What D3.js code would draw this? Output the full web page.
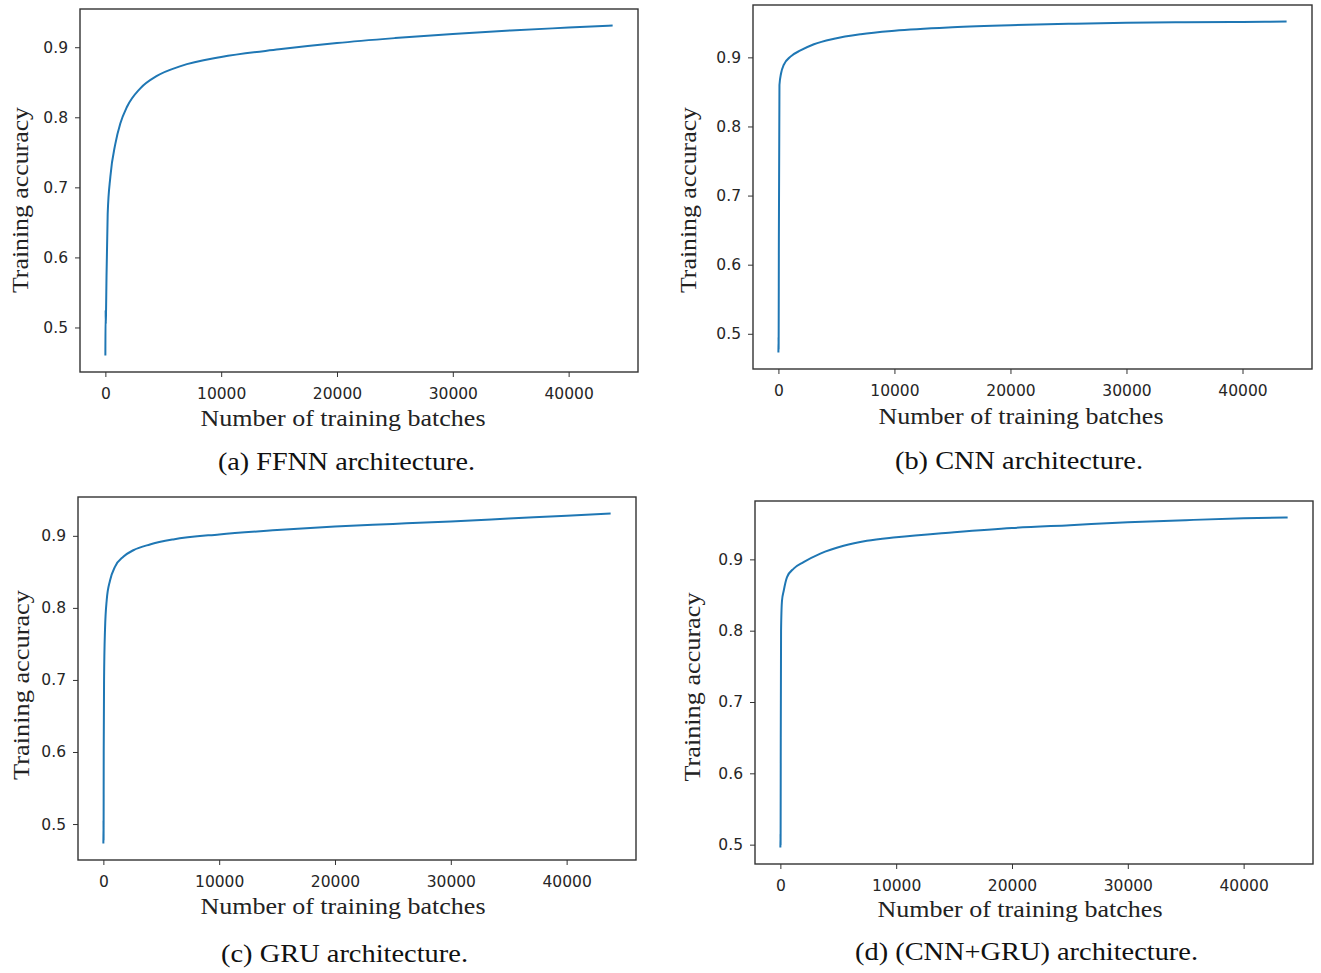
<!DOCTYPE html>
<html>
<head>
<meta charset="utf-8">
<script src="https://cdn.jsdelivr.net/npm/d3@7"></script>
<style>
  html, body { margin: 0; padding: 0; background: #fff; }
  svg { display: block; }
</style>
</head>
<body>
<svg id="chart" width="1321" height="973"></svg>
<script>
// ---------------- DATA ----------------
const xTickValues = [0, 10000, 20000, 30000, 40000];
const yTickValues = [0.5, 0.6, 0.7, 0.8, 0.9];
const xAxisTitle = "Number of training batches";
const yAxisTitle = "Training accuracy";
const captions = ["(a) FFNN architecture.", "(b) CNN architecture.", "(c) GRU architecture.", "(d) (CNN+GRU) architecture."];

// (a) FFNN
const batchesA = [0, 20, 40, 60, 100, 200, 430, 860, 1290, 1870, 3000, 4450, 6500, 10000, 15000, 20000, 25000, 30000, 35000, 40000, 43800];
const accA     = [0.460, 0.525, 0.505, 0.525, 0.574, 0.662, 0.715, 0.762, 0.791, 0.815, 0.841, 0.859, 0.873, 0.886, 0.897, 0.906, 0.913, 0.919, 0.924, 0.928, 0.931];

// (b) CNN
const batchesB = [0, 10, 20, 40, 90, 230, 460, 1040, 1900, 3060, 4800, 7100, 10000, 15000, 20000, 25000, 30000, 35000, 40000, 43800];
const accB     = [0.473, 0.495, 0.478, 0.640, 0.860, 0.877, 0.889, 0.901, 0.910, 0.919, 0.927, 0.9335, 0.9385, 0.9435, 0.9465, 0.9485, 0.950, 0.9508, 0.9513, 0.9518];

// (c) GRU
const batchesC = [0, 10, 20, 30, 60, 140, 290, 575, 1000, 1720, 2590, 4020, 6030, 10000, 15000, 20000, 25000, 30000, 35000, 40000, 43800];
const accC     = [0.473, 0.505, 0.478, 0.600, 0.700, 0.769, 0.811, 0.838, 0.857, 0.871, 0.880, 0.888, 0.895, 0.902, 0.908, 0.913, 0.9165, 0.920, 0.924, 0.928, 0.931];

// (d) CNN+GRU
const batchesD = [0, 10, 20, 35, 60, 140, 290, 575, 1150, 2000, 3450, 5460, 7470, 10000, 15000, 20000, 25000, 30000, 35000, 40000, 43800];
const accD     = [0.496, 0.515, 0.500, 0.650, 0.800, 0.842, 0.856, 0.875, 0.887, 0.896, 0.908, 0.919, 0.926, 0.931, 0.938, 0.944, 0.948, 0.952, 0.955, 0.9575, 0.9587];

// ---------------- LAYOUT ----------------
const panels = [
  { batches: batchesA, acc: accA, caption: captions[0],
    box: {l: 80,  t: 9,   r: 638,  b: 372}, xTitle: [343, 426],  cap: [346.5, 470], capW: 257, yTitle: [20, 200],  yW: 186 },
  { batches: batchesB, acc: accB, caption: captions[1],
    box: {l: 753, t: 5,   r: 1312, b: 369}, xTitle: [1021, 424], cap: [1019, 469],  capW: 248, yTitle: [688, 200], yW: 186 },
  { batches: batchesC, acc: accC, caption: captions[2],
    box: {l: 78,  t: 497, r: 636,  b: 860}, xTitle: [343, 914],  cap: [344.5, 962], capW: 247, yTitle: [21, 685],  yW: 190 },
  { batches: batchesD, acc: accD, caption: captions[3],
    box: {l: 755, t: 501, r: 1313, b: 864}, xTitle: [1020, 917], cap: [1026.5, 960], capW: 343, yTitle: [692, 687], yW: 189 }
];
const xTitleW = 285;

const svg = d3.select("#chart");
const serif = "'Liberation Serif', 'Times New Roman', serif";
const sans = "'DejaVu Sans', sans-serif";

panels.forEach(p => {
  const {l, t, r, b} = p.box;
  const xExt = d3.extent(p.batches);
  const yExt = d3.extent(p.acc);
  const xPad = (xExt[1] - xExt[0]) * 0.05;
  const yPad = (yExt[1] - yExt[0]) * 0.05;

  const x = d3.scaleLinear().domain([xExt[0] - xPad, xExt[1] + xPad]).range([l, r]);
  const y = d3.scaleLinear().domain([yExt[0] - yPad, yExt[1] + yPad]).range([b, t]);

  const g = svg.append("g");

  // x axis
  const gx = g.append("g")
    .attr("transform", `translate(0,${b})`)
    .call(d3.axisBottom(x).tickValues(xTickValues).tickFormat(d3.format("d")).tickSize(5).tickPadding(11));
  gx.select(".domain").remove();
  gx.selectAll(".tick line").attr("stroke", "#333").attr("stroke-width", 1);
  gx.selectAll(".tick text").attr("font-family", sans).attr("font-size", 15.5).attr("fill", "#262626");

  // y axis
  const gy = g.append("g")
    .attr("transform", `translate(${l},0)`)
    .call(d3.axisLeft(y).tickValues(yTickValues).tickFormat(d3.format(".1f")).tickSize(5).tickPadding(7));
  gy.select(".domain").remove();
  gy.selectAll(".tick line").attr("stroke", "#333").attr("stroke-width", 1);
  gy.selectAll(".tick text").attr("font-family", sans).attr("font-size", 15.5).attr("fill", "#262626");

  // curve
  const data = p.batches.map((v, i) => [v, p.acc[i]]);
  g.append("path")
    .datum(data)
    .attr("fill", "none")
    .attr("stroke", "#1f77b4")
    .attr("stroke-width", 2)
    .attr("stroke-linejoin", "round")
    .attr("d", d3.line().x(d => x(d[0])).y(d => y(d[1])).curve(d3.curveMonotoneX));

  // frame
  g.append("rect")
    .attr("x", l).attr("y", t).attr("width", r - l).attr("height", b - t)
    .attr("fill", "none").attr("stroke", "#333").attr("stroke-width", 1.4);

  // titles
  g.append("text")
    .attr("x", p.xTitle[0]).attr("y", p.xTitle[1])
    .attr("text-anchor", "middle")
    .attr("font-family", serif).attr("font-size", 24).attr("fill", "#222")
    .attr("textLength", xTitleW).attr("lengthAdjust", "spacingAndGlyphs")
    .text(xAxisTitle);

  g.append("text")
    .attr("transform", `translate(${p.yTitle[0]},${p.yTitle[1]}) rotate(-90)`)
    .attr("text-anchor", "middle").attr("dy", "0.35em")
    .attr("font-family", serif).attr("font-size", 24).attr("fill", "#222")
    .attr("textLength", p.yW).attr("lengthAdjust", "spacingAndGlyphs")
    .text(yAxisTitle);

  g.append("text")
    .attr("x", p.cap[0]).attr("y", p.cap[1])
    .attr("text-anchor", "middle")
    .attr("font-family", serif).attr("font-size", 25).attr("fill", "#111")
    .attr("textLength", p.capW).attr("lengthAdjust", "spacingAndGlyphs")
    .text(p.caption);
});
</script>
</body>
</html>
